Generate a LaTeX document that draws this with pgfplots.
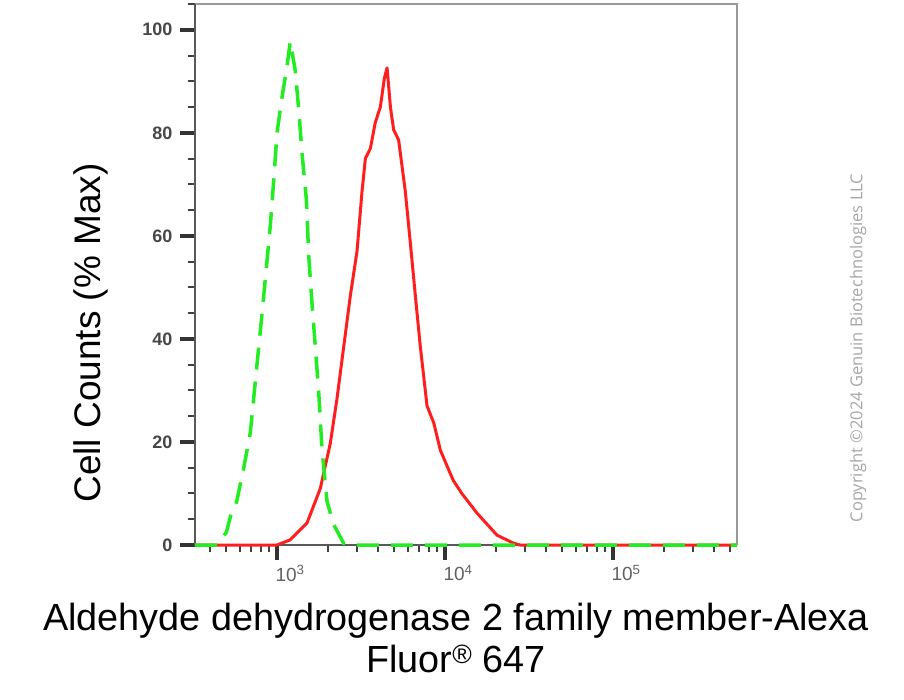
\documentclass[border=0pt]{standalone}
\usepackage{pgfplots}
\pgfplotsset{compat=1.18}
\usepackage{fontspec}
\setmainfont{Liberation Sans}
\newfontfamily\opensans{Open Sans}

\definecolor{ctrlgreen}{RGB}{34,236,34}
\definecolor{samplered}{RGB}{255,30,30}

\begin{document}
\begin{tikzpicture}[x=1pt,y=1pt]
\path[use as bounding box] (0,0) rectangle (904,-700);

\begin{axis}[
    at={(195pt,-4pt)}, anchor=north west,
    scale only axis, width=542pt, height=541pt,
    xmode=log, log basis x=10,
    xmin=325, xmax=547000,
    ymin=0, ymax=105,
    clip=false,
    axis line style={draw=none},
    tick align=outside,
    xtick pos=lower, ytick pos=left,
    xtick={1000,10000,100000},
    xticklabels={10\textsuperscript{3},10\textsuperscript{4},10\textsuperscript{5}},
    minor xtick={400,500,600,700,800,900,2000,3000,4000,5000,6000,7000,8000,9000,
                 20000,30000,40000,50000,60000,70000,80000,90000,200000,300000,400000,500000},
    ytick={0,20,40,60,80,100},
    minor ytick={5,10,15,25,30,35,45,50,55,65,70,75,85,90,95,105},
    major tick length=15pt, minor tick length=7pt,
    tick style={line width=3.5pt, black!80},
    minor tick style={line width=2pt, black!75},
    /pgf/number format/assume math mode=true,
    yticklabel style={font=\fontsize{18}{20}\selectfont\bfseries, text=black!72, xshift=-4pt},
    xticklabel style={font=\fontsize{19}{22}\selectfont, text=black!62, xshift=13pt, yshift=-2pt},
]
% frame
\draw[black!40, line width=2.5pt] (rel axis cs:0,1) -- (rel axis cs:1,1) -- (rel axis cs:1,0);
\draw[black!65, line width=2pt] (rel axis cs:0,1) -- (rel axis cs:0,0) -- (rel axis cs:1,0);

% sample (red)
\addplot[samplered, line width=3pt, line join=round] coordinates {
(325,0) (1000,0) (1199,1) (1510,4.3) (1811,11) (2075,19.7) (2275,28.4)
(2495,38.5) (2735,48.5) (2993,57) (3206,68.6) (3357,75) (3597,77)
(3846,82) (4121,85) (4355,90.6) (4519,92.6) (4732,85) (4943,80.6)
(5297,78.6) (5803,68.6) (6223,58.5) (6653,48.5) (7129,38.5) (7816,27)
(8570,23.7) (9380,18.4) (11170,12.6) (12589,10) (15490,6.2) (20400,1.9)
(25400,0.4) (27900,0) (547000,0)
};

% control (green dashed)
\addplot[ctrlgreen, line width=3.5pt, dash pattern=on 22pt off 12pt] coordinates {
(325,0) (440,0) (500,2.5) (530,5.7) (575,8.4) (634,15) (693,21.7) (760,35)
(815,45) (871,55) (912,62) (955,70.6) (1000,80) (1072,87) (1148,93)
(1199,97.7) (1285,92) (1346,84.6) (1409,76) (1496,67) (1542,56.5)
(1614,47) (1690,38.5) (1770,29.8) (1854,18.4) (1986,8.4) (2173,4)
(2495,0.3) (2700,0) (547000,0)
};
\end{axis}

\node[rotate=90, font=\fontsize{37}{44}\selectfont] at (91,-333) {Cell Counts (\% Max)};
\node[anchor=north, align=center, font=\fontsize{37.8}{42}\selectfont] at (456,-600)
  {Aldehyde dehydrogenase 2 family member-Alexa\\Fluor\textsuperscript{\textregistered} 647};
\node[rotate=90, text=black!35, font=\fontsize{16.5}{19}\selectfont\opensans] at (858,-348)
  {Copyright \textcopyright 2024 Genuin Biotechnologies LLC};
\end{tikzpicture}
\end{document}
